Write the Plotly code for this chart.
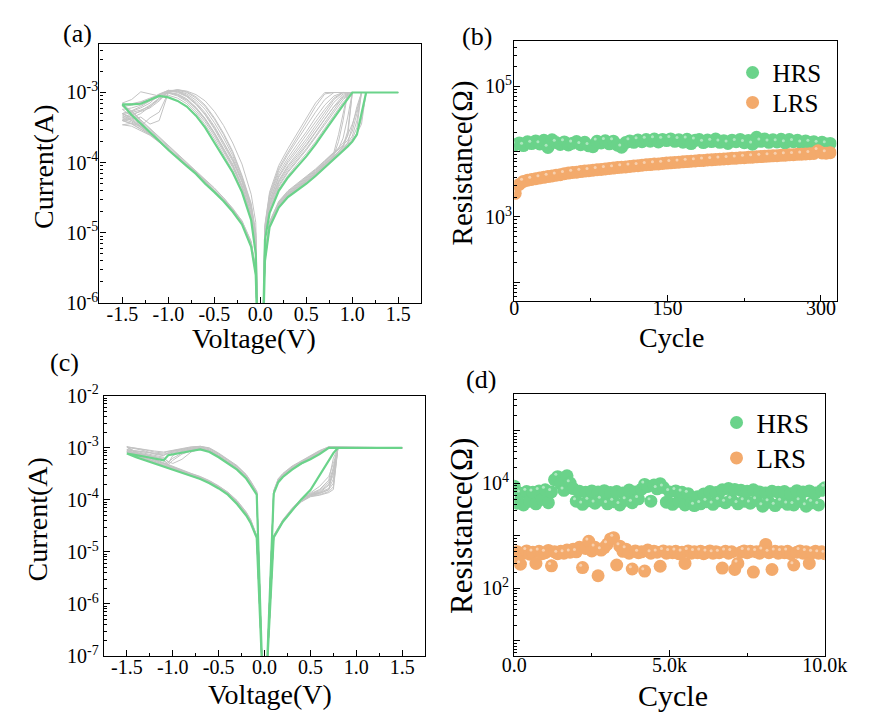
import plotly.graph_objects as go

W, H = 892, 723
SERIF = "Liberation Serif"
GRAY = "#c3c3c3"
GREEN = "#6ad38a"
ORANGE = "#f3aa6c"

# ---------------- (a) I-V sweeps, device A ----------------
# sweep voltages of the four branches (V)
A_V_SET_UP = [0.02, 0.05, 0.1, 0.2, 0.3, 0.4, 0.5, 0.6, 0.7, 0.8, 0.85, 0.9, 0.95, 1.0, 1.05, 1.1, 1.15, 1.2, 1.5]
A_V_SET_DOWN = [1.1, 1.0, 0.9, 0.8, 0.7, 0.6, 0.5, 0.4, 0.3, 0.2, 0.1, 0.05, 0.02]
A_V_RST_OUT = [-0.02, -0.05, -0.1, -0.2, -0.3, -0.4, -0.5, -0.6, -0.7, -0.8, -0.9, -1.0, -1.1, -1.2, -1.3, -1.4, -1.5]
A_V_RST_BACK = [-1.4, -1.3, -1.2, -1.1, -1.0, -0.9, -0.8, -0.7, -0.6, -0.5, -0.4, -0.3, -0.2, -0.1, -0.05, -0.02]

# log10 |I| (A) for each recorded cycle, branches in the order above
A_GRAY_LOG_I = [
    [-7.0, -5.35, -4.88, -4.60, -4.45, -4.35, -4.25, -4.14, -4.02, -3.90, -3.84, -3.76, -3.55, -3.0, -3.0, -3.0, -3.0, -3.0, -3.0,
     -3.0, -3.0, -3.06, -3.24, -3.43, -3.62, -3.80, -3.96, -4.12, -4.32, -4.65, -5.05, -7.0,
     -7.0, -5.25, -4.76, -4.36, -4.07, -3.84, -3.62, -3.42, -3.26, -3.13, -3.05, -3.01, -3.03, -3.08, -3.13, -3.16, -3.18,
     -3.30, -3.42, -3.54, -3.66, -3.79, -3.91, -4.02, -4.13, -4.26, -4.38, -4.52, -4.67, -4.85, -5.15, -5.55, -7.0],
    [-7.0, -5.3, -4.84, -4.55, -4.40, -4.30, -4.20, -4.09, -3.97, -3.85, -3.60, -3.30, -3.0, -3.0, -3.0, -3.0, -3.0, -3.0, -3.0,
     -3.0, -3.0, -3.0, -3.0, -3.02, -3.20, -3.42, -3.63, -3.85, -4.08, -4.45, -4.9, -6.8,
     -6.8, -5.0, -4.60, -4.20, -3.86, -3.60, -3.38, -3.20, -3.08, -3.00, -2.97, -2.97, -3.04, -3.12, -3.20, -3.26, -3.30,
     -3.38, -3.48, -3.58, -3.70, -3.82, -3.93, -4.04, -4.15, -4.28, -4.40, -4.53, -4.68, -4.86, -5.18, -5.58, -7.0],
    [-7.0, -5.38, -4.90, -4.62, -4.47, -4.37, -4.27, -4.16, -4.04, -3.92, -3.86, -3.80, -3.72, -3.62, -3.40, -3.0, -3.0, -3.0, -3.0,
     -3.0, -3.0, -3.10, -3.28, -3.46, -3.64, -3.82, -3.98, -4.14, -4.34, -4.67, -5.05, -7.0,
     -7.0, -5.2, -4.72, -4.32, -4.02, -3.79, -3.57, -3.37, -3.21, -3.09, -3.02, -3.0, -3.40, -3.45, -3.35, -3.38, -3.40,
     -3.45, -3.52, -3.60, -3.70, -3.82, -3.93, -4.04, -4.15, -4.28, -4.40, -4.53, -4.68, -4.86, -5.15, -5.55, -7.0],
    [-7.0, -5.32, -4.86, -4.58, -4.43, -4.33, -4.23, -4.12, -4.00, -3.88, -3.82, -3.75, -3.68, -3.55, -3.30, -3.0, -3.0, -3.0, -3.0,
     -3.0, -3.0, -3.02, -3.14, -3.33, -3.52, -3.70, -3.87, -4.04, -4.25, -4.58, -5.0, -7.0,
     -7.0, -5.15, -4.68, -4.28, -3.98, -3.74, -3.52, -3.32, -3.17, -3.06, -3.00, -2.98, -3.05, -3.02, -2.99, -3.10, -3.15,
     -3.28, -3.40, -3.52, -3.64, -3.77, -3.89, -4.00, -4.12, -4.25, -4.37, -4.50, -4.66, -4.83, -5.12, -5.52, -7.0],
    [-7.0, -5.36, -4.89, -4.61, -4.46, -4.36, -4.26, -4.15, -4.03, -3.91, -3.85, -3.78, -3.60, -3.45, -3.25, -3.0, -3.0, -3.0, -3.0,
     -3.0, -3.0, -3.0, -3.10, -3.28, -3.47, -3.66, -3.83, -4.00, -4.21, -4.55, -4.98, -7.0,
     -7.0, -5.1, -4.65, -4.25, -3.94, -3.70, -3.48, -3.29, -3.14, -3.04, -2.98, -2.97, -3.03, -3.15, -3.22, -3.27, -3.30,
     -3.36, -3.46, -3.57, -3.68, -3.80, -3.92, -4.03, -4.14, -4.27, -4.39, -4.52, -4.67, -4.85, -5.16, -5.56, -7.0],
    [-7.0, -5.4, -4.91, -4.63, -4.48, -4.39, -4.29, -4.18, -4.06, -3.95, -3.89, -3.83, -3.76, -3.68, -3.58, -3.45, -3.0, -3.0, -3.0,
     -3.0, -3.0, -3.14, -3.32, -3.51, -3.70, -3.87, -4.02, -4.18, -4.37, -4.70, -5.08, -7.0,
     -7.0, -5.28, -4.79, -4.39, -4.11, -3.88, -3.66, -3.46, -3.29, -3.16, -3.08, -3.04, -3.06, -3.12, -3.18, -3.22, -3.24,
     -3.34, -3.45, -3.57, -3.69, -3.82, -3.94, -4.05, -4.16, -4.29, -4.41, -4.54, -4.69, -4.87, -5.19, -5.6, -7.0],
    [-7.0, -5.34, -4.87, -4.59, -4.44, -4.34, -4.24, -4.13, -4.01, -3.89, -3.70, -3.40, -3.0, -3.0, -3.0, -3.0, -3.0, -3.0, -3.0,
     -3.0, -3.0, -3.0, -3.05, -3.18, -3.36, -3.56, -3.74, -3.93, -4.15, -4.50, -4.95, -7.0,
     -7.0, -5.05, -4.62, -4.22, -3.90, -3.65, -3.43, -3.24, -3.11, -3.02, -2.98, -2.99, -3.08, -3.18, -3.26, -3.33, -3.38,
     -3.42, -3.50, -3.59, -3.70, -3.82, -3.93, -4.04, -4.15, -4.28, -4.40, -4.53, -4.68, -4.86, -5.17, -5.57, -7.0],
    [-7.0, -5.37, -4.90, -4.62, -4.47, -4.38, -4.28, -4.17, -4.05, -3.93, -3.87, -3.81, -3.74, -3.66, -3.50, -3.0, -3.0, -3.0, -3.0,
     -3.0, -3.0, -3.08, -3.20, -3.38, -3.57, -3.76, -3.93, -4.09, -4.29, -4.62, -5.02, -7.0,
     -7.0, -5.2, -4.74, -4.34, -4.05, -3.81, -3.59, -3.39, -3.23, -3.11, -3.04, -3.00, -3.10, -3.20, -3.25, -3.28, -3.32,
     -3.40, -3.48, -3.58, -3.69, -3.81, -3.93, -4.04, -4.15, -4.28, -4.40, -4.53, -4.68, -4.86, -5.16, -5.57, -7.0],
    [-7.0, -5.33, -4.86, -4.57, -4.42, -4.32, -4.22, -4.11, -3.99, -3.87, -3.80, -3.65, -3.35, -3.0, -3.0, -3.0, -3.0, -3.0, -3.0,
     -3.0, -3.0, -3.0, -3.0, -3.0, -3.15, -3.36, -3.58, -3.80, -4.04, -4.42, -4.88, -6.8,
     -6.6, -4.85, -4.45, -4.02, -3.72, -3.47, -3.27, -3.12, -3.03, -2.98, -2.96, -2.98, -3.08, -3.20, -3.30, -3.36, -3.40,
     -3.44, -3.52, -3.60, -3.70, -3.81, -3.92, -4.03, -4.14, -4.27, -4.39, -4.52, -4.67, -4.85, -5.16, -5.56, -7.0],
    [-7.0, -5.36, -4.88, -4.60, -4.45, -4.36, -4.26, -4.15, -4.03, -3.91, -3.85, -3.79, -3.72, -3.48, -3.20, -3.0, -3.0, -3.0, -3.0,
     -3.0, -3.0, -3.0, -3.08, -3.24, -3.42, -3.61, -3.79, -3.97, -4.19, -4.54, -4.97, -7.0,
     -7.0, -5.12, -4.66, -4.26, -3.96, -3.72, -3.50, -3.31, -3.16, -3.05, -2.99, -2.97, -3.02, -3.10, -3.14, -3.18, -3.20,
     -3.26, -3.39, -3.51, -3.63, -3.76, -3.88, -4.00, -4.11, -4.24, -4.36, -4.50, -4.65, -4.83, -5.13, -5.53, -7.0],
    [-7.0, -5.39, -4.91, -4.63, -4.48, -4.38, -4.28, -4.17, -4.05, -3.94, -3.88, -3.82, -3.76, -3.69, -3.58, -3.38, -3.0, -3.0, -3.0,
     -3.0, -3.0, -3.04, -3.20, -3.38, -3.56, -3.74, -3.90, -4.06, -4.27, -4.60, -5.02, -7.0,
     -7.0, -5.22, -4.74, -4.34, -4.04, -3.80, -3.58, -3.38, -3.22, -3.10, -3.03, -3.00, -3.28, -3.36, -3.48, -3.44, -3.46,
     -3.48, -3.54, -3.61, -3.71, -3.82, -3.93, -4.04, -4.15, -4.28, -4.40, -4.53, -4.68, -4.86, -5.16, -5.56, -7.0],
    [-7.0, -5.31, -4.85, -4.56, -4.41, -4.31, -4.21, -4.10, -3.98, -3.86, -3.79, -3.72, -3.62, -3.0, -3.0, -3.0, -3.0, -3.0, -3.0,
     -3.0, -3.0, -3.0, -3.0, -3.10, -3.28, -3.48, -3.68, -3.88, -4.11, -4.48, -4.92, -6.9,
     -6.9, -5.02, -4.58, -4.18, -3.84, -3.58, -3.36, -3.18, -3.06, -2.99, -2.96, -2.99, -3.12, -3.22, -3.27, -3.31, -3.35,
     -3.40, -3.49, -3.59, -3.70, -3.82, -3.93, -4.04, -4.15, -4.28, -4.40, -4.53, -4.68, -4.86, -5.17, -5.57, -7.0],
]
A_GREEN_LOG_I = [
    -7.0, -5.4, -4.92, -4.64, -4.49, -4.40, -4.30, -4.19, -4.07, -3.96, -3.90, -3.84, -3.77, -3.70, -3.60, -3.30, -3.0, -3.0, -3.0,
    -3.0, -3.0, -3.18, -3.36, -3.55, -3.74, -3.91, -4.06, -4.21, -4.40, -4.72, -5.1, -7.0,
    -7.0, -5.3, -4.82, -4.42, -4.14, -3.92, -3.70, -3.50, -3.33, -3.20, -3.12, -3.07, -3.05, -3.10, -3.16, -3.17, -3.17,
    -3.32, -3.44, -3.56, -3.69, -3.82, -3.94, -4.05, -4.16, -4.30, -4.42, -4.55, -4.70, -4.88, -5.2, -5.6, -7.0,
]

# ---------------- (c) I-V sweeps, device B ----------------
C_V_SET_UP = [0.025, 0.1, 0.2, 0.3, 0.4, 0.5, 0.6, 0.7, 0.75, 0.8, 1.5]
C_V_SET_DOWN = [0.7, 0.6, 0.5, 0.4, 0.3, 0.2, 0.15, 0.1, 0.025]
C_V_RST_OUT = [-0.025, -0.085, -0.15, -0.2, -0.3, -0.4, -0.5, -0.6, -0.7, -0.8, -0.9, -1.0, -1.05, -1.1, -1.2, -1.3, -1.4, -1.5]
C_V_RST_BACK = [-1.4, -1.3, -1.2, -1.1, -1.0, -0.9, -0.8, -0.7, -0.6, -0.5, -0.4, -0.3, -0.2, -0.15, -0.085, -0.025]

C_GRAY_LOG_I = [
    [-7.3, -4.70, -4.40, -4.18, -4.00, -3.88, -3.80, -3.62, -3.20, -3.0, -3.0,
     -2.99, -3.08, -3.18, -3.27, -3.38, -3.52, -3.62, -3.84, -7.3,
     -7.3, -3.86, -3.68, -3.55, -3.38, -3.26, -3.14, -3.04, -3.00, -3.02, -3.05, -3.08, -3.10, -3.12, -3.10, -3.08, -3.06, -3.04,
     -3.12, -3.19, -3.26, -3.32, -3.38, -3.45, -3.51, -3.57, -3.65, -3.75, -3.87, -4.04, -4.26, -4.41, -4.70, -7.3],
    [-7.3, -4.68, -4.38, -4.16, -3.98, -3.90, -3.86, -3.78, -3.60, -3.0, -3.0,
     -3.0, -3.10, -3.20, -3.29, -3.40, -3.54, -3.64, -3.86, -7.3,
     -7.3, -3.88, -3.70, -3.57, -3.40, -3.28, -3.16, -3.06, -3.01, -3.04, -3.10, -3.20, -3.28, -3.18, -3.14, -3.10, -3.07, -3.05,
     -3.14, -3.21, -3.28, -3.34, -3.40, -3.47, -3.53, -3.58, -3.66, -3.76, -3.88, -4.05, -4.27, -4.42, -4.71, -7.3],
    [-7.3, -4.71, -4.41, -4.19, -4.01, -3.90, -3.84, -3.70, -3.45, -3.0, -3.0,
     -2.98, -3.06, -3.16, -3.25, -3.36, -3.50, -3.60, -3.83, -7.3,
     -7.3, -3.85, -3.66, -3.53, -3.36, -3.24, -3.12, -3.02, -2.98, -3.00, -3.03, -3.06, -3.09, -3.15, -3.12, -3.06, -3.02, -2.99,
     -3.10, -3.17, -3.24, -3.30, -3.37, -3.44, -3.50, -3.56, -3.64, -3.74, -3.86, -4.03, -4.25, -4.40, -4.70, -7.3],
    [-7.3, -4.69, -4.39, -4.17, -3.99, -3.86, -3.74, -3.55, -3.30, -3.0, -3.0,
     -3.0, -3.09, -3.19, -3.28, -3.39, -3.53, -3.63, -3.85, -7.3,
     -7.3, -3.87, -3.69, -3.56, -3.39, -3.27, -3.15, -3.05, -3.02, -3.08, -3.22, -3.30, -3.26, -3.20, -3.16, -3.12, -3.09, -3.07,
     -3.15, -3.22, -3.29, -3.35, -3.41, -3.48, -3.54, -3.59, -3.67, -3.77, -3.89, -4.06, -4.28, -4.43, -4.72, -7.3],
    [-7.3, -4.72, -4.43, -4.21, -4.03, -3.93, -3.90, -3.84, -3.75, -3.0, -3.0,
     -3.0, -3.11, -3.21, -3.30, -3.41, -3.55, -3.65, -3.87, -7.3,
     -7.3, -3.89, -3.71, -3.58, -3.41, -3.29, -3.17, -3.07, -3.02, -3.04, -3.07, -3.10, -3.13, -3.22, -3.19, -3.15, -3.12, -3.09,
     -3.16, -3.23, -3.29, -3.35, -3.41, -3.48, -3.54, -3.60, -3.67, -3.77, -3.89, -4.07, -4.29, -4.44, -4.72, -7.3],
    [-7.3, -4.70, -4.40, -4.19, -4.02, -3.89, -3.82, -3.66, -3.38, -3.0, -3.0,
     -2.99, -3.07, -3.17, -3.26, -3.37, -3.51, -3.61, -3.84, -7.3,
     -7.3, -3.84, -3.65, -3.52, -3.35, -3.23, -3.11, -3.01, -2.97, -2.99, -3.02, -3.05, -3.07, -3.10, -3.08, -3.04, -3.01, -2.98,
     -3.09, -3.16, -3.23, -3.30, -3.36, -3.43, -3.50, -3.56, -3.64, -3.74, -3.86, -4.02, -4.24, -4.39, -4.69, -7.3],
    [-7.3, -4.71, -4.41, -4.20, -4.02, -3.91, -3.86, -3.72, -3.52, -3.0, -3.0,
     -3.0, -3.10, -3.20, -3.29, -3.40, -3.54, -3.64, -3.86, -7.3,
     -7.3, -3.88, -3.69, -3.56, -3.39, -3.27, -3.15, -3.05, -3.01, -3.03, -3.06, -3.15, -3.30, -3.25, -3.18, -3.13, -3.10, -3.08,
     -3.15, -3.22, -3.28, -3.34, -3.40, -3.47, -3.53, -3.59, -3.66, -3.76, -3.88, -4.05, -4.27, -4.42, -4.71, -7.3],
    [-7.3, -4.73, -4.42, -4.21, -4.03, -3.92, -3.88, -3.80, -3.68, -3.0, -3.0,
     -2.99, -3.09, -3.19, -3.28, -3.39, -3.53, -3.63, -3.85, -7.3,
     -7.3, -3.87, -3.68, -3.55, -3.38, -3.26, -3.14, -3.04, -2.99, -3.01, -3.04, -3.07, -3.11, -3.14, -3.11, -3.08, -3.05, -3.03,
     -3.13, -3.20, -3.27, -3.33, -3.39, -3.46, -3.52, -3.58, -3.66, -3.76, -3.88, -4.05, -4.27, -4.42, -4.71, -7.3],
    [-7.3, -4.70, -4.41, -4.19, -4.02, -3.92, -3.87, -3.81, -3.40, -3.0, -3.0,
     -2.98, -3.05, -3.15, -3.24, -3.35, -3.49, -3.59, -3.82, -7.3,
     -7.3, -3.83, -3.64, -3.51, -3.34, -3.22, -3.10, -3.00, -2.97, -2.98, -3.01, -3.04, -3.06, -3.08, -3.06, -3.03, -3.00, -2.98,
     -3.08, -3.15, -3.22, -3.29, -3.35, -3.42, -3.49, -3.55, -3.63, -3.73, -3.85, -4.01, -4.23, -4.38, -4.69, -7.3],
    [-7.3, -4.72, -4.43, -4.21, -4.04, -3.94, -3.91, -3.86, -3.80, -3.0, -3.0,
     -3.0, -3.11, -3.21, -3.30, -3.41, -3.55, -3.65, -3.87, -7.3,
     -7.3, -3.89, -3.71, -3.58, -3.41, -3.29, -3.17, -3.07, -3.03, -3.06, -3.12, -3.24, -3.33, -3.22, -3.17, -3.13, -3.10, -3.08,
     -3.16, -3.23, -3.29, -3.35, -3.41, -3.48, -3.54, -3.60, -3.67, -3.77, -3.89, -4.07, -4.29, -4.44, -4.72, -7.3],
]
C_GREEN_LOG_I = [
    -7.3, -4.72, -4.42, -4.20, -3.99, -3.81, -3.52, -3.22, -3.10, -3.0, -3.0,
    -3.0, -3.12, -3.22, -3.30, -3.42, -3.56, -3.66, -3.88, -7.3,
    -7.3, -3.90, -3.72, -3.59, -3.42, -3.30, -3.18, -3.08, -3.03, -3.06, -3.09, -3.12, -3.14, -3.24, -3.20, -3.17, -3.14, -3.11,
    -3.18, -3.24, -3.30, -3.36, -3.42, -3.49, -3.55, -3.60, -3.68, -3.78, -3.90, -4.08, -4.30, -4.45, -4.73, -7.3,
]

# ---------------- (b) endurance, 300 cycles ----------------
B_CYCLE = list(range(1, 310, 4))
B_HRS = [12800, 13600, 12400, 14200, 13300, 14600, 13100, 14900, 11600, 15200,
         13800, 12900, 14100, 12700, 13500, 14300, 12800, 13900, 12300, 11900,
         14400, 13600, 14700, 13200, 14500, 12600, 11700, 13800, 14600, 13900,
         15100, 14200, 15300, 14500, 15600, 14100, 15400, 14800, 15700, 14400,
         15200, 14000, 15500, 13300, 14900, 15300, 13800, 15100, 14300, 15600,
         13900, 14700, 13400, 15000, 14200, 15400, 13700, 14800, 13000, 16600,
         14400, 15600, 13900, 15200, 14100, 15500, 13600, 15300, 14200, 14900,
         13500, 14600, 13800, 14200, 13300, 13900, 13100, 13400]
B_LRS = [2300, 3150, 3500, 3650, 3750, 3850, 3950, 4050, 4150, 4250,
         4350, 4450, 4600, 4700, 4800, 4850, 4950, 5050, 5100, 5200,
         5300, 5350, 5450, 5550, 5600, 5700, 5800, 5850, 5950, 6050,
         6100, 6200, 6300, 6350, 6450, 6500, 6600, 6700, 6750, 6850,
         6900, 7000, 7050, 7150, 7200, 7300, 7350, 7450, 7500, 7600,
         7650, 7750, 7800, 7900, 7950, 8050, 8100, 8200, 8250, 8350,
         8400, 8500, 8550, 8650, 8700, 8800, 8850, 8950, 9000, 9100,
         9150, 9250, 9300, 9400, 10300, 9550, 9500, 9650]

# ---------------- (d) endurance, 10k cycles ----------------
D_CYCLE = list(range(0, 10001, 100))
D_HRS = [8900, 4200, 6500, 3900, 7000, 4600, 6800, 4100, 7200, 5000,
         7600, 4300, 6900, 11800, 13500, 9800, 7400, 14000, 10200, 8000,
         4600, 7100, 4000, 6800, 4700, 7200, 4200, 6900, 4900, 7300,
         4100, 6700, 4500, 7000, 3900, 6600, 4800, 7500, 4300, 6900,
         5100, 7800, 9600, 8800, 4600, 9300, 7900, 9900, 8400, 4400,
         6900, 4000, 7200, 4600, 6800, 3900, 6400, 4200, 3800, 5600,
         4100, 6300, 4500, 7000, 4000, 6700, 4700, 7600, 4300, 8000,
         4900, 7700, 4100, 7400, 4600, 7100, 4200, 7600, 4800, 6900,
         3700, 6600, 4400, 7100, 3800, 6800, 4500, 7000, 4000, 6400,
         3900, 7300, 4600, 6900, 3700, 7200, 4300, 6600, 3900, 7400,
         8300]
D_LRS = [420, 500, 290, 470, 520, 450, 490, 300, 510, 460,
         480, 530, 270, 500, 460, 510, 470, 540, 490, 560,
         500, 610, 250, 580, 790, 520, 610, 175, 540, 600,
         700, 880, 930, 280, 640, 510, 560, 470, 235, 520,
         480, 500, 215, 540, 470, 510, 490, 265, 520, 470,
         500, 480, 510, 460, 490, 300, 520, 470, 500, 480,
         510, 460, 490, 520, 470, 500, 480, 245, 510, 470,
         500, 230, 300, 490, 520, 480, 510, 205, 500, 470,
         530, 690, 480, 230, 510, 470, 500, 480, 510, 460,
         280, 490, 520, 470, 500, 300, 480, 510, 470, 500,
         460]

assert len(B_HRS) == len(B_CYCLE) == len(B_LRS)
assert len(D_HRS) == len(D_CYCLE) == len(D_LRS)

fig = go.Figure()


def add_iv(xa, ya, v_branches, gray_curves, green_curve):
    volts = [v for seg in v_branches for v in seg]
    for logs in gray_curves:
        assert len(logs) == len(volts)
        fig.add_trace(go.Scatter(x=volts, y=[10 ** k for k in logs], mode="lines",
                                 line=dict(color=GRAY, width=1), xaxis=xa, yaxis=ya,
                                 showlegend=False, hoverinfo="skip"))
    assert len(green_curve) == len(volts)
    fig.add_trace(go.Scatter(x=volts, y=[10 ** k for k in green_curve], mode="lines",
                             line=dict(color=GREEN, width=2.2), xaxis=xa, yaxis=ya,
                             showlegend=False, hoverinfo="skip"))


def add_endurance(xa, ya, cyc, series, dx, dlog, size):
    for name, vals, col, leg in series:
        fig.add_trace(go.Scatter(x=cyc, y=vals, mode="markers", name=name,
                                 marker=dict(color=col, size=size, line=dict(width=0)),
                                 xaxis=xa, yaxis=ya, legend=leg, showlegend=True))
        # small specular spot on every other sphere
        fig.add_trace(go.Scatter(x=[c + dx for c in cyc[::2]], y=[v * 10 ** dlog for v in vals[::2]],
                                 mode="markers",
                                 marker=dict(color="white", size=3, opacity=0.45, line=dict(width=0)),
                                 xaxis=xa, yaxis=ya, showlegend=False, hoverinfo="skip"))


add_iv("x", "y", [A_V_SET_UP, A_V_SET_DOWN, A_V_RST_OUT, A_V_RST_BACK], A_GRAY_LOG_I, A_GREEN_LOG_I)
add_iv("x3", "y3", [C_V_SET_UP, C_V_SET_DOWN, C_V_RST_OUT, C_V_RST_BACK], C_GRAY_LOG_I, C_GREEN_LOG_I)
add_endurance("x2", "y2", B_CYCLE, [("HRS", B_HRS, GREEN, "legend"), ("LRS", B_LRS, ORANGE, "legend3")],
              -1.8, 0.035, 13)
add_endurance("x4", "y4", D_CYCLE, [("HRS", D_HRS, GREEN, "legend2"), ("LRS", D_LRS, ORANGE, "legend4")],
              -60, 0.045, 13)


def px(x):
    return x / W


def py(y):
    return 1 - y / H


def log_minor(d0, d1):
    return [k * 10 ** d for d in range(d0, d1) for k in range(2, 10)]


TICKFONT = dict(family=SERIF, size=20, color="black")


def axis(domain, anchor, rng, tickvals, ticktext, minor_vals, log=False, standoff=0):
    ax = dict(domain=domain, anchor=anchor, range=rng, tickmode="array",
              tickvals=tickvals, ticktext=ticktext, ticks="inside", ticklen=6,
              tickwidth=1, tickcolor="black", showline=True, linecolor="black",
              linewidth=1.3, mirror=True, showgrid=False, zeroline=False,
              tickfont=TICKFONT, ticklabelstandoff=standoff,
              minor=dict(tickvals=minor_vals, ticks="inside", ticklen=3,
                         tickwidth=1, tickcolor="black", showgrid=False))
    if log:
        ax["type"] = "log"
    return ax


def legend_box(x, y, size):
    return dict(x=px(x), y=py(y), xanchor="left", yanchor="top",
                font=dict(family=SERIF, size=size, color="black"),
                bgcolor="rgba(0,0,0,0)", itemsizing="trace", itemwidth=30)


V_TICKS = [-1.5, -1.0, -0.5, 0.0, 0.5, 1.0, 1.5]
V_TEXT = ["-1.5", "-1.0", "-0.5", "0.0", "0.5", "1.0", "1.5"]
V_MINOR = [-1.25, -0.75, -0.25, 0.25, 0.75, 1.25]

fig.update_layout(
    width=W, height=H, margin=dict(l=0, r=0, t=0, b=0), autosize=False,
    paper_bgcolor="white", plot_bgcolor="white",
    font=dict(family=SERIF, color="black"),
    xaxis=axis([px(91), px(426)], "y", [-1.75, 1.75], V_TICKS, V_TEXT, V_MINOR, standoff=-7),
    yaxis=axis([py(300), py(32)], "x", [-6, -2.308],
               [1e-6, 1e-5, 1e-4, 1e-3],
               ["10<sup>-6</sup>", "10<sup>-5</sup>", "10<sup>-4</sup>", "10<sup>-3</sup>"],
               log_minor(-6, -2), log=True, standoff=-4),
    xaxis2=axis([px(522.7), px(858.3)], "y2", [0, 315.3], [0, 150, 300], ["0", "150", "300"], [75, 225],
                standoff=-12),
    yaxis2=axis([py(298.3), py(29.3)], "x2", [1.707, 5.69],
                [1e2, 1e3, 1e4, 1e5], ["", "10<sup>3</sup>", "", "10<sup>5</sup>"],
                log_minor(1, 6), log=True, standoff=-3),
    xaxis3=axis([px(95.7), px(430)], "y3", [-1.75, 1.75], V_TICKS, V_TEXT, V_MINOR, standoff=-7),
    yaxis3=axis([py(665), py(396)], "x3", [-7, -2],
                [1e-7, 1e-6, 1e-5, 1e-4, 1e-3, 1e-2],
                ["10<sup>-7</sup>", "10<sup>-6</sup>", "10<sup>-5</sup>", "10<sup>-4</sup>",
                 "10<sup>-3</sup>", "10<sup>-2</sup>"],
                log_minor(-7, -2), log=True, standoff=0),
    xaxis4=axis([px(522.7), px(846)], "y4", [0, 10000], [0, 5000, 10000], ["0.0", "5.0k", "10.0k"], [2500, 7500],
                standoff=-9),
    yaxis4=axis([py(665.3), py(394.3)], "x4", [0.71, 5.70],
                [1e1, 1e2, 1e3, 1e4, 1e5], ["", "10<sup>2</sup>", "", "10<sup>4</sup>", ""],
                log_minor(0, 6), log=True, standoff=0),
    legend=legend_box(750, 38, 25),
    legend3=legend_box(750, 69, 25),
    legend2=legend_box(733.3, 398.7, 27),
    legend4=legend_box(733.3, 435.3, 27),
)


def label(text, x, y, size, angle=0):
    fig.add_annotation(text=text, x=px(x), y=py(y), xref="paper", yref="paper",
                       xanchor="center", yanchor="middle", showarrow=False,
                       textangle=angle, font=dict(family=SERIF, size=size, color="black"))


label("(a)", 68, 21, 26)
label("(b)", 484, 24, 26)
label("(c)", 55, 361, 26)
label("(d)", 488, 379, 26)
label("Voltage(V)", 252, 337, 28)
label("Current(A)", 33.5, 159, 28, -90)
label("Resistance(Ω)", 469, 155, 29, -90)
label("Cycle", 686.5, 336, 28)
label("Voltage(V)", 268.7, 705, 28)
label("Current(A)", 27, 524, 28, -90)
label("Resistance(Ω)", 468, 531, 31, -90)
label("Cycle", 687.7, 706, 30)

fig.write_html("out.html", config={"responsive": False})
